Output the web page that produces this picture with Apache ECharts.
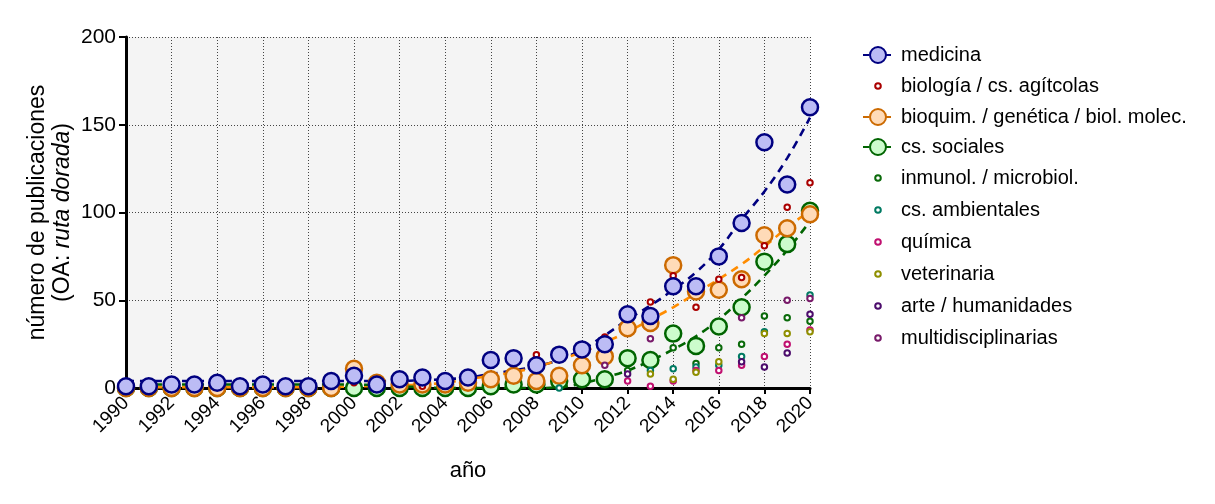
<!DOCTYPE html>
<html><head><meta charset="utf-8">
<script src="https://cdn.jsdelivr.net/npm/echarts@6/dist/echarts.min.js"></script>
<style>html,body{margin:0;padding:0;background:#fff}#c{width:1215px;height:504px}</style>
</head><body><div id="c"></div>
<script>
const FONT = '"Liberation Sans", Arial, sans-serif';
const years = [1990,1991,1992,1993,1994,1995,1996,1997,1998,1999,2000,2001,2002,2003,2004,2005,2006,2007,2008,2009,2010,2011,2012,2013,2014,2015,2016,2017,2018,2019,2020];

// main series (large circles)
const medicina = [1,1,2,2,3,1,2,1,1,4,7,2,5,6,4,6,16,17,13,19,22,25,42,41,58,58,75,94,140,116,160];
const bioquim  = [0,0,0,0,0,0,0,0,0,0,11,3,2,2,2,3,5,7,4,7,13,18,34,37,70,55,56,62,87,91,99];
const sociales = [0,0,0,0,0,0,0,0,0,0,0,0,0,0,0,0,1,2,2,4,5,5,17,16,31,24,35,46,72,82,101];

// fitted trend curves
const medicinaFit = [4,4,4,4,4,4,4,4,4,4,4,4,4,4.5,5,6,8,10,12.5,16,22,30,39,47,56,66,79,96,112,131,154];
const bioquimFit  = [0.5,0.5,0.5,0.5,0.5,0.5,0.5,0.5,0.5,0.5,1,1,1.5,2,3,5,7,9,12,16,20.5,26,32,39,46,54,62,70.5,80.5,91.5,101];
const socialesFit = [2,2,2,2,2,2,2,2,2,2,2,1.5,1,0.5,0,0,0,0,0,0.5,2.5,6,10,15.5,22,29.5,39,51,64,78.5,95];

// small markers (null = not visible)
const N = null;
const biologia    = [N,N,N,N,N,N,N,N,N,N, 3,N,N,1,N,N,N,N,19,N, N,29,N,49,64,46,62,63,81,103, 117];
const inmunol     = [N,N,N,N,N,N,N,N,N,N, N,N,N,N,N,N,N,N,N,N, N,N,10,N,23,14,23,25,41,40, 38];
const ambientales = [N,N,N,N,N,N,N,N,N,N, N,N,N,N,N,N,N,N,N,0, N,N,N,10,11,12,13,18,32,N, 53];
const quimica     = [N,N,N,N,N,N,N,N,N,N, N,N,N,N,N,N,N,N,N,N, N,N,4,1,4,10,10,13,18,25, 33];
const veterinaria = [N,N,N,N,N,N,N,N,N,N, N,N,N,N,N,N,N,N,N,N, N,N,N,8,5,9,15,N,31,31, 32];
const arte        = [N,N,N,N,N,N,N,N,N,N, N,N,N,N,N,N,N,N,N,N, N,N,8,N,N,N,N,15,12,20, 42];
const multi       = [N,N,N,N,N,N,N,N,N,N, N,N,N,N,N,N,N,N,N,N, N,13,N,28,N,N,N,40,N,50, 51];

const pairs = v => years.map((y,i)=>[y,v[i]]).filter(p=>p[1]!==null);

function bigSeries(name, vals, fill, border, z){
  return {name, type:'line', data:pairs(vals), symbol:'circle', symbolSize:16, showSymbol:true,
    lineStyle:{color:border, width:2, type:[6,5], opacity:0},
    itemStyle:{color:fill, borderColor:border, borderWidth:2.5, opacity:1}, z, emphasis:{disabled:true}};
}
function fitSeries(name, vals, color){
  return {name, type:'line', data:pairs(vals), smooth:0.4, symbol:'none', showSymbol:false, silent:true,
    lineStyle:{color, width:2.6, type:[8,6]}, z:1, emphasis:{disabled:true}};
}
function smallSeries(name, vals, color){
  return {name, type:'scatter', data:pairs(vals), symbol:'circle', symbolSize:5.5,
    itemStyle:{color:'#ffffff', borderColor:color, borderWidth:2, opacity:1}, z:4, emphasis:{disabled:true}};
}
const smallIcon = 'path://M0 0M30 20M17.8 10A2.8 2.8 0 1 1 12.2 10A2.8 2.8 0 1 1 17.8 10Z';

const names = ['medicina','biología / cs. agítcolas','bioquim. / genética / biol. molec.','cs. sociales','inmunol. / microbiol.','cs. ambientales','química','veterinaria','arte / humanidades','multidisciplinarias'];
const smallColors = {'biología / cs. agítcolas':'#aa0000','inmunol. / microbiol.':'#0a6a0a','cs. ambientales':'#007a62','química':'#c01070','veterinaria':'#8f8f00','arte / humanidades':'#4c0c6c','multidisciplinarias':'#781a6a'};

const series = [
  fitSeries('medicina ajuste', medicinaFit, '#000080'),
  fitSeries('bioquim ajuste', bioquimFit, '#ff8c00'),
  fitSeries('sociales ajuste', socialesFit, '#006400'),
  bigSeries(names[3], sociales, '#ccfccc', '#006400', 2),
  bigSeries(names[2], bioquim, '#ffdbb8', '#cc6a00', 3),
  smallSeries(names[1], biologia, smallColors[names[1]]),
  smallSeries(names[4], inmunol, smallColors[names[4]]),
  smallSeries(names[5], ambientales, smallColors[names[5]]),
  smallSeries(names[6], quimica, smallColors[names[6]]),
  smallSeries(names[7], veterinaria, smallColors[names[7]]),
  smallSeries(names[8], arte, smallColors[names[8]]),
  smallSeries(names[9], multi, smallColors[names[9]]),
  bigSeries(names[0], medicina, '#bcbcf5', '#000080', 5)
];

const legendData = names.map(n => smallColors[n] ? {name:n, icon:smallIcon} : {name:n});

const chart = echarts.init(document.getElementById('c'), null, {renderer:'canvas'});
chart.setOption({
  animation:false,
  backgroundColor:'#ffffff',
  grid:{left:126, right:405, top:37, bottom:116, show:true, backgroundColor:'#f4f4f4', borderWidth:0},
  legend:{orient:'vertical', left:857, top:40, itemWidth:30, itemHeight:20, itemGap:10,
    data:legendData, selectedMode:false,
    lineStyle:{width:2, opacity:1},
    textStyle:{fontSize:20, color:'#000', fontFamily:FONT, lineHeight:20, padding:[0,0,0,3]}},
  xAxis:{type:'value', min:1990, max:2020, interval:2,
    name:'año', nameLocation:'middle', nameGap:72, nameMoveOverlap:false,
    nameTextStyle:{fontSize:22, color:'#000', fontFamily:FONT},
    axisLine:{onZero:false, lineStyle:{color:'#000', width:3}},
    axisTick:{length:6, lineStyle:{color:'#000', width:2}},
    axisLabel:{rotate:45, fontSize:19, color:'#000', fontFamily:FONT, margin:12, formatter:v=>String(v)},
    splitLine:{show:true, lineStyle:{color:'#444', type:[1,2], width:1}}},
  yAxis:{type:'value', min:0, max:200, interval:50,
    name:'{n|número de publicaciones}\n{n|(OA: }{i|ruta dorada}{n|)}',
    nameLocation:'middle', nameGap:51, nameRotate:90, nameMoveOverlap:false,
    nameTextStyle:{fontSize:23, color:'#000', fontFamily:FONT, lineHeight:25,
      rich:{n:{fontSize:23, color:'#000', fontFamily:FONT, lineHeight:25},
            i:{fontSize:23, color:'#000', fontFamily:FONT, fontStyle:'italic', lineHeight:25}}},
    axisLine:{show:true, lineStyle:{color:'#000', width:3}},
    axisTick:{show:true, length:7, lineStyle:{color:'#000', width:2}},
    axisLabel:{fontSize:21, color:'#000', fontFamily:FONT, margin:10},
    splitLine:{show:true, lineStyle:{color:'#444', type:[1,2], width:1}}},
  series
});
</script></body></html>
